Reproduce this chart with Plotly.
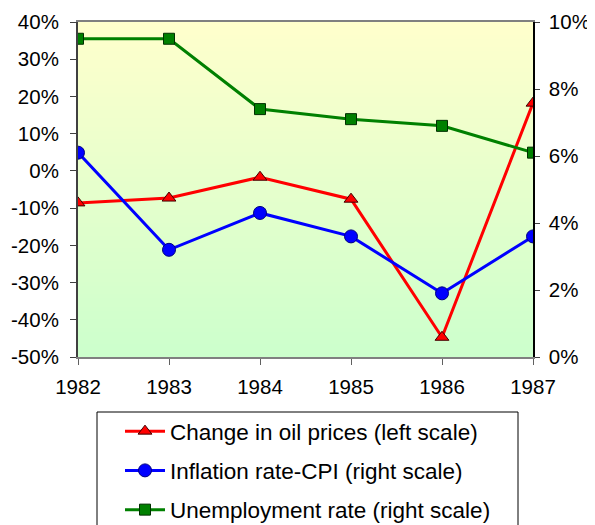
import plotly.graph_objects as go

years = [1982, 1983, 1984, 1985, 1986, 1987]
oil_change = [-8.6, -7.3, -1.7, -7.6, -44.7, 18.2]      # % (left scale)
inflation_cpi = [6.1, 3.2, 4.3, 3.6, 1.9, 3.6]          # % (right scale)
unemployment = [9.5, 9.5, 7.4, 7.1, 6.9, 6.1]           # % (right scale)

left_ticks = list(range(-50, 41, 10))
right_ticks = list(range(0, 11, 2))

FONT = "Liberation Sans, Arial, sans-serif"

OFF = 8  # page body offset
W, H = 595, 525
L, R, T, B = 78 - OFF, 62 + OFF, 22 - OFF, 168 + OFF
PW, PH = W - L - R, H - T - B


def px_x(px):
    return (px - OFF - L) / PW


def px_y(py):
    return (H - B - (py - OFF)) / PH


fig = go.Figure()

# background gradient (yellow top -> green bottom)
nrows = 80
y_lo, y_hi = -50, 40
edges = [y_lo + (y_hi - y_lo) * i / nrows for i in range(nrows + 1)]
zvals = [[i / (nrows - 1)] for i in range(nrows)]
fig.add_trace(go.Heatmap(
    x=[years[0], years[-1]], y=edges, z=zvals,
    colorscale=[[0, "#CCFFCC"], [1, "#FFFFCC"]],
    showscale=False, hoverinfo="skip", xaxis="x", yaxis="y",
))

fig.add_trace(go.Scatter(
    x=years, y=oil_change, name="Change in oil prices (left scale)",
    mode="lines+markers", yaxis="y", legendgroup="a",
    line=dict(color="#FF0000", width=3),
    marker=dict(symbol="triangle-up", size=12, color="#FF0000",
                line=dict(color="#400000", width=1)),
))
fig.add_trace(go.Scatter(
    x=years, y=inflation_cpi, name="Inflation rate-CPI (right scale)",
    mode="lines+markers", yaxis="y2", legendgroup="b",
    line=dict(color="#0000FF", width=3),
    marker=dict(symbol="circle", size=13, color="#0000FF",
                line=dict(color="#000080", width=1)),
))
fig.add_trace(go.Scatter(
    x=years, y=unemployment, name="Unemployment rate (right scale)",
    mode="lines+markers", yaxis="y2", legendgroup="c",
    line=dict(color="#008000", width=3),
    marker=dict(symbol="square", size=11, color="#008000",
                line=dict(color="#003000", width=1)),
))

TICKF = dict(size=20.5, family=FONT)

fig.update_layout(
    width=W, height=H,
    margin=dict(l=L, r=R, t=T, b=B, autoexpand=False),
    paper_bgcolor="white", plot_bgcolor="white",
    font=dict(family=FONT, size=20, color="black"),
    xaxis=dict(
        range=[years[0], years[-1]], tickvals=years, ticktext=[str(y) for y in years],
        showgrid=False, zeroline=False, showline=True, linecolor="#808080", linewidth=1.5,
        mirror=True, ticks="outside", ticklen=6, tickcolor="#606060",
        ticklabelstandoff=5, tickfont=TICKF,
    ),
    yaxis=dict(
        range=[-50, 40], tickvals=left_ticks, ticktext=[f"{v}%" for v in left_ticks],
        showgrid=False, zeroline=False, showline=True, linecolor="#404040", linewidth=2,
        ticks="outside", ticklen=6, tickcolor="#404040", ticklabelstandoff=7,
        tickfont=TICKF,
    ),
    yaxis2=dict(
        range=[0, 10], tickvals=right_ticks, ticktext=[f"{v}%" for v in right_ticks],
        overlaying="y", side="right",
        showgrid=False, zeroline=False, showline=True, linecolor="black", linewidth=1.5,
        ticks="outside", ticklen=5, tickcolor="#404040", ticklabelstandoff=5,
        tickfont=TICKF,
    ),
    showlegend=True,
    legend=dict(
        x=px_x(120), y=px_y(410), xanchor="left", yanchor="top",
        borderwidth=0, bgcolor="rgba(0,0,0,0)", itemwidth=40,
        font=dict(size=22.5, family=FONT), tracegroupgap=7,
        traceorder="grouped",
    ),
    shapes=[dict(
        type="rect", xref="paper", yref="paper",
        x0=px_x(97), x1=px_x(518), y0=px_y(412), y1=px_y(545),
        line=dict(color="black", width=1), fillcolor="white", layer="below",
    )],
)

fig.write_html("out.html")
